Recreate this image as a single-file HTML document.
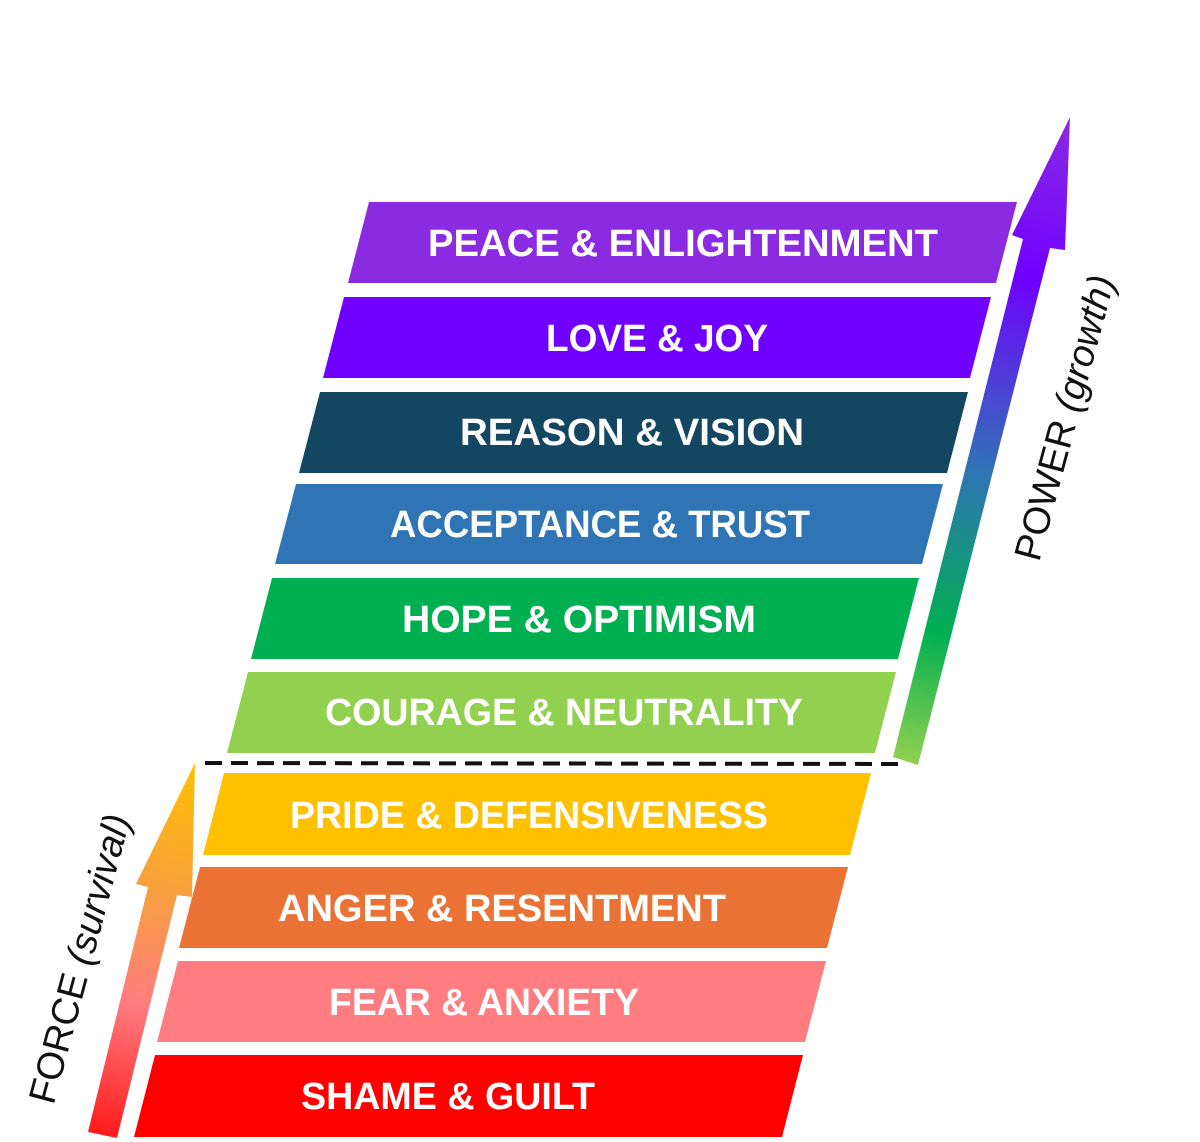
<!DOCTYPE html>
<html><head><meta charset="utf-8"><style>
html,body{margin:0;padding:0;background:#fff;}
svg{display:block;}
.t{font-family:"Liberation Sans",sans-serif;font-weight:bold;font-size:38px;fill:#fff;text-anchor:middle;}
.l{font-family:"Liberation Sans",sans-serif;font-size:38px;fill:#111;text-anchor:middle;}
</style></head><body>
<svg width="1200" height="1142" viewBox="0 0 1200 1142" xmlns="http://www.w3.org/2000/svg">
<defs>
<linearGradient id="pg" x1="905" y1="762" x2="1070" y2="117" gradientUnits="userSpaceOnUse">
<stop offset="0" stop-color="#92d050"/><stop offset="0.2" stop-color="#00b050"/><stop offset="0.45" stop-color="#2f74b5"/><stop offset="0.75" stop-color="#7000ff"/><stop offset="1" stop-color="#8a2be2"/>
</linearGradient>
<linearGradient id="fg" x1="102" y1="1135" x2="195" y2="763" gradientUnits="userSpaceOnUse">
<stop offset="0" stop-color="#ff1a1a"/><stop offset="0.35" stop-color="#ff7c80"/><stop offset="0.65" stop-color="#f6a040"/><stop offset="1" stop-color="#ffc000"/>
</linearGradient>
</defs>
<g>
<polygon points="369,202 1017,202 996,283 348,283" fill="#8a2be2"/>
<polygon points="344,297 991,297 970,378 323,378" fill="#7000ff"/>
<polygon points="320,392 968,392 947,473 299,473" fill="#134661"/>
<polygon points="296,484 943,484 922,564 275,564" fill="#2f74b5"/>
<polygon points="272,578 919,578 898,659 251,659" fill="#00b050"/>
<polygon points="248,672 896,672 875,753 227,753" fill="#92d050"/>
<polygon points="224,773 871,773 850,855 203,855" fill="#ffc000"/>
<polygon points="200,867 848,867 827,948 179,948" fill="#ea7234"/>
<polygon points="178,961 826,961 805,1042 157,1042" fill="#ff7c80"/>
<polygon points="155,1055 803,1055 782,1137 134,1137" fill="#ff0000"/>
</g>
<line x1="205" y1="763" x2="905" y2="764" stroke="#111" stroke-width="4" stroke-dasharray="17,9"/>
<g class="t">
<text x="683" y="256" textLength="510" lengthAdjust="spacingAndGlyphs">PEACE &amp; ENLIGHTENMENT</text>
<text x="657" y="351" textLength="222" lengthAdjust="spacingAndGlyphs">LOVE &amp; JOY</text>
<text x="632" y="445" textLength="344" lengthAdjust="spacingAndGlyphs">REASON &amp; VISION</text>
<text x="600" y="537" textLength="420" lengthAdjust="spacingAndGlyphs">ACCEPTANCE &amp; TRUST</text>
<text x="579" y="632" textLength="354" lengthAdjust="spacingAndGlyphs">HOPE &amp; OPTIMISM</text>
<text x="564" y="725" textLength="478" lengthAdjust="spacingAndGlyphs">COURAGE &amp; NEUTRALITY</text>
<text x="529" y="828" textLength="478" lengthAdjust="spacingAndGlyphs">PRIDE &amp; DEFENSIVENESS</text>
<text x="502" y="921" textLength="448" lengthAdjust="spacingAndGlyphs">ANGER &amp; RESENTMENT</text>
<text x="484" y="1015" textLength="310" lengthAdjust="spacingAndGlyphs">FEAR &amp; ANXIETY</text>
<text x="448" y="1109" textLength="294" lengthAdjust="spacingAndGlyphs">SHAME &amp; GUILT</text>
</g>
<polygon points="893,757 1023,239 1012,235 1070,117 1065,250 1050,248 918,765" fill="url(#pg)"/>
<polygon points="88,1132 148,887 136,884 195,763 192,897 177,895 117,1138" fill="url(#fg)"/>
<text class="l" transform="translate(1077,421) rotate(-75)">POWER <tspan font-style="italic">(growth)</tspan></text>
<text class="l" transform="translate(92,962) rotate(-75)">FORCE <tspan font-style="italic">(survival)</tspan></text>
</svg>
</body></html>
